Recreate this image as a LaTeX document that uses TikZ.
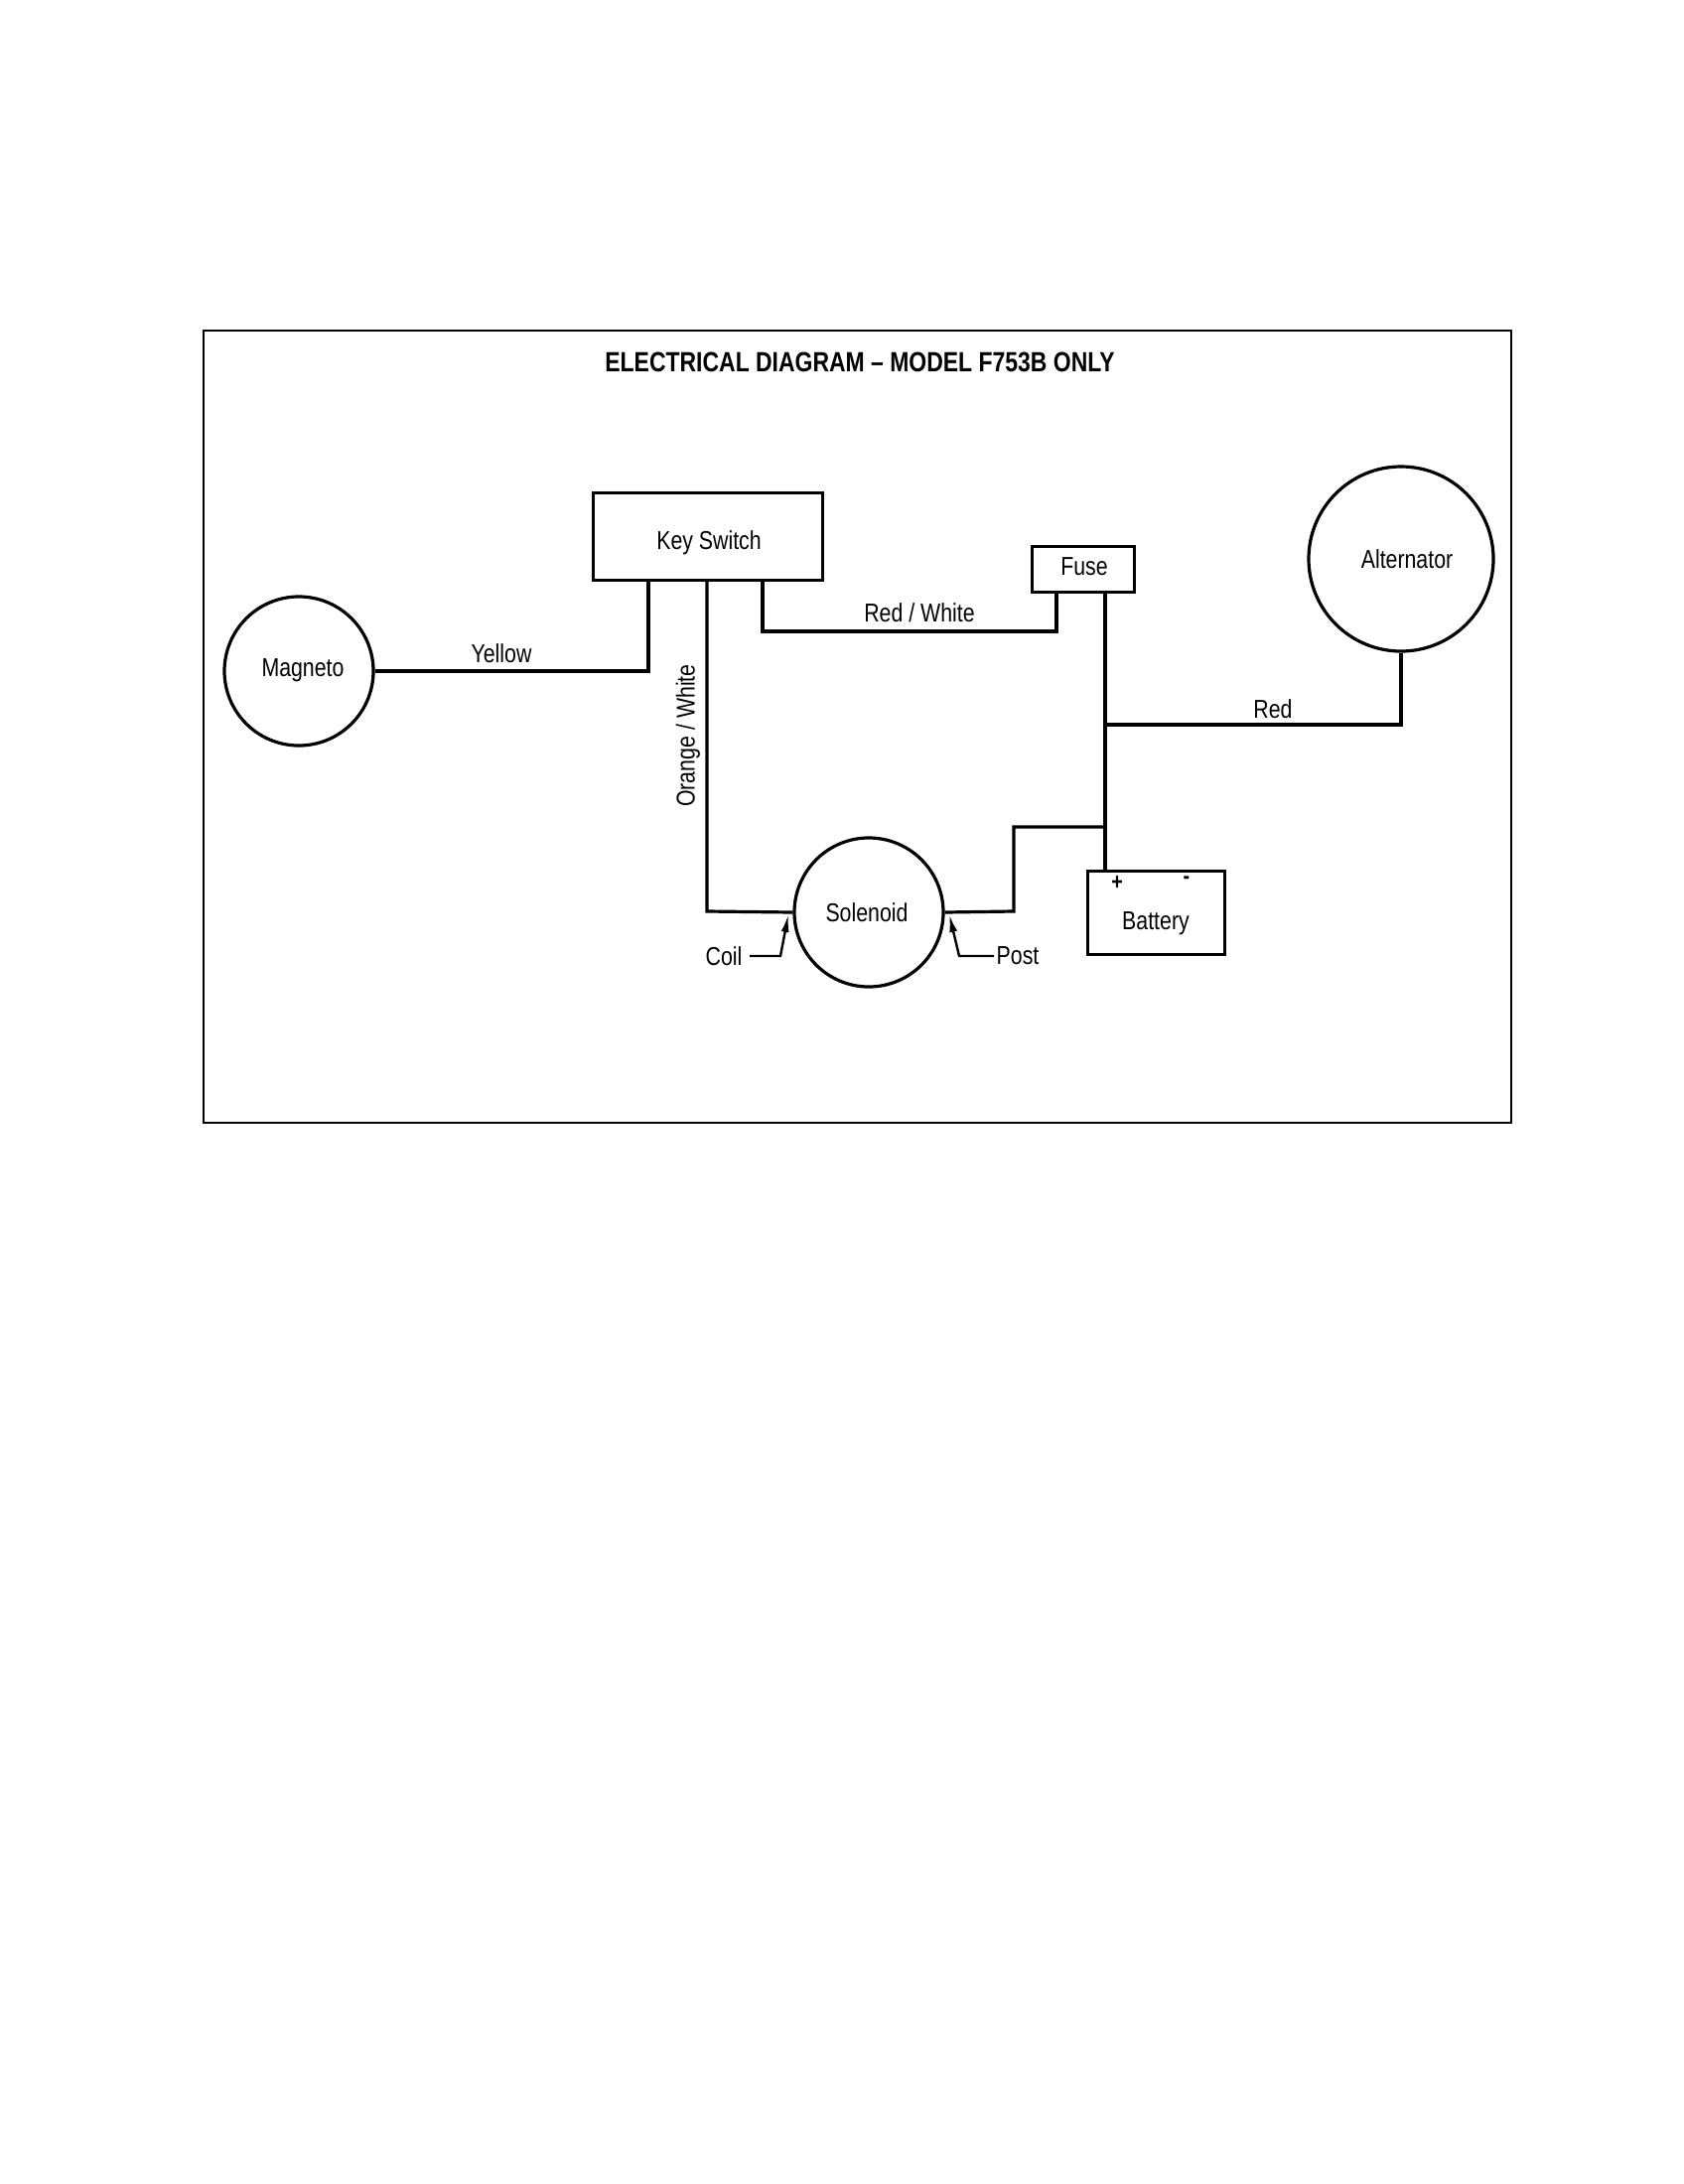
\documentclass[tikz,border=0pt]{standalone}
\usepackage{fontspec}
\usetikzlibrary{arrows.meta}
\setmainfont{Liberation Sans}[FakeStretch=0.82]
\begin{document}
\begin{tikzpicture}[x=0.5pt,y=-0.5pt,
  wire/.style={line width=1.6pt},
  box/.style={draw,line width=1.6pt,inner sep=0pt,anchor=north west},
  ring/.style={draw,circle,line width=1.6pt,inner sep=0pt},
  lbl/.style={font=\fontsize{13}{15}\selectfont,inner sep=1pt}]
\useasboundingbox (0,0) rectangle (1696,2200);
\draw[line width=0.9pt] (205,333) rectangle (1522,1131);
\node[font=\bfseries\fontsize{14}{16}\selectfont] (title) at (866,365) {ELECTRICAL DIAGRAM -- MODEL F753B ONLY};
\node[box,minimum width=115.5pt,minimum height=44pt] (key) at (596,495) {};
\node[lbl] (keyt) at (714,547) {Key Switch};
\node[box,minimum width=51.5pt,minimum height=23pt] (fuse) at (1038,549) {};
\node[lbl] (fuset) at (1092,571) {Fuse};
\node[box,minimum width=69pt,minimum height=42pt] (bat) at (1094,876) {};
\node[lbl] (batt) at (1164,930) {Battery};
\node[font=\bfseries\fontsize{12}{14}\selectfont] (plus) at (1125,889) {+};
\node[font=\bfseries\fontsize{12}{14}\selectfont] (minus) at (1195,887) {-};
\node[ring,minimum size=75pt] (mag) at (301,676) {};
\node[lbl] (magt) at (305,675) {Magneto};
\node[ring,minimum size=93pt] (alt) at (1411,563) {};
\node[lbl] (altt) at (1417,563) {Alternator};
\node[ring,minimum size=75pt] (sol) at (875,919) {};
\node[lbl] (solt) at (873,919) {Solenoid};
% wires
\draw[wire] (mag.east) -- (653,676) -- (653,583);
\node[lbl] (yel) at (505,658) {Yellow};
\draw[wire] (712,583) -- (712,918) -- (sol.west);
\node[lbl,rotate=90] (ow) at (693,741) {Orange / White};
\draw[wire] (768,583) -- (768,636) -- (1064,636) -- (1064,595);
\node[lbl] (rw) at (926,617) {Red / White};
\draw[wire] (1113,595) -- (1113,876);
\coordinate (jr) at (1113,730);
\draw[wire] (jr) -- (1411,730) -- (alt.south);
\node[lbl] (red) at (1282,714) {Red};
\draw[wire] (sol.east) -- (1021,918) -- (1021,833) -- (1113,833);
% Coil / Post pointers
\node[lbl] (coil) at (729,963) {Coil};
\coordinate (cp) at (794,921);
\draw[line width=1.2pt,-{Latex[length=9pt,width=4pt]}] (755,963) -- (786,963) -- (cp);
\node[lbl] (post) at (1025,963) {Post};
\coordinate (pp) at (956,921);
\draw[line width=1.2pt,-{Latex[length=9pt,width=4pt]}] (1001,963) -- (966,963) -- (pp);
\end{tikzpicture}
\end{document}
